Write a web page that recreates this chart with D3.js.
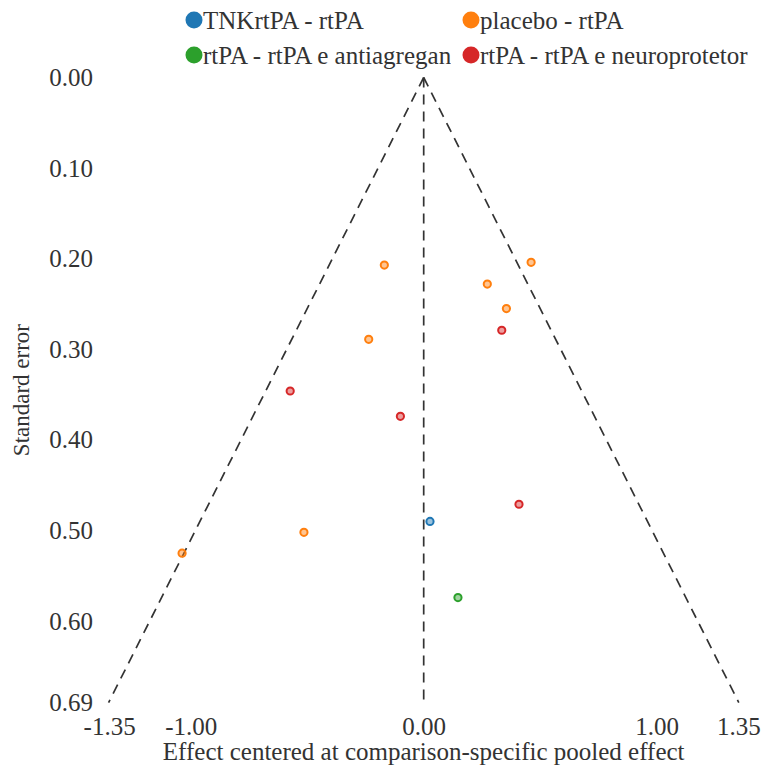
<!DOCTYPE html>
<html>
<head>
<meta charset="utf-8">
<script src="https://cdn.jsdelivr.net/npm/d3@7"></script>
<style>
  html, body { margin: 0; padding: 0; background: #fff; }
  svg { display: block; }
  text { font-family: "Liberation Serif", "Times New Roman", serif; fill: #333; }
</style>
</head>
<body>
<svg id="chart" width="765" height="769"></svg>
<script>
// Comparisons shown in the legend
const comparisons = ["TNKrtPA - rtPA", "placebo - rtPA", "rtPA - rtPA e antiagregante", "rtPA - rtPA e neuroprotetor"];
const colors = ["#1f77b4", "#ff7f0e", "#2ca02c", "#d62728"];

// Study effects centered at comparison-specific pooled effect, and their standard errors
const studyComparison = [1, 1, 1, 1, 1, 1, 1, 3, 3, 3, 3, 0, 2];
const studyEffect     = [-0.169, 0.461, 0.273, 0.355, -0.236, -0.514, -1.037, -0.573, -0.100, 0.335, 0.409, 0.027, 0.147];
const studySE         = [0.207, 0.204, 0.228, 0.255, 0.289, 0.502, 0.525, 0.346, 0.374, 0.279, 0.471, 0.490, 0.574];

// Axis ticks
const xTicks = [-1.35, -1.00, 0.00, 1.00, 1.35];
const yTicks = [0.00, 0.10, 0.20, 0.30, 0.40, 0.50, 0.60, 0.69];
const seMax = 0.69;
const limit = 1.96 * seMax; // pseudo 95% limits at the widest point

const fmt = d => d.toFixed(2);
const serif = "'Liberation Serif', 'Times New Roman', serif";

const svg = d3.select("#chart");

const x = d3.scaleLinear().domain([-1.35, 1.35]).range([423.7 - 1.35 * 233, 423.7 + 1.35 * 233]);
const y = d3.scaleLinear().domain([0, seMax]).range([77.5, 77.5 + seMax * 906]);

// Y axis (labels only)
const yAxis = svg.append("g")
  .attr("transform", "translate(97,0)")
  .call(d3.axisLeft(y).tickValues(yTicks).tickSize(0).tickPadding(4).tickFormat(fmt));
yAxis.select(".domain").remove();
yAxis.selectAll("text").style("font-size", "25px").attr("fill", "#333").style("font-family", serif);

// X axis (labels only)
const xAxis = svg.append("g")
  .attr("transform", "translate(0,711)")
  .call(d3.axisBottom(x).tickValues(xTicks).tickSize(0).tickPadding(6).tickFormat(fmt));
xAxis.select(".domain").remove();
xAxis.selectAll("text").style("font-size", "25px").attr("fill", "#333").style("font-family", serif);

// Axis titles
svg.append("text")
  .attr("x", x(0)).attr("y", 751)
  .attr("text-anchor", "middle").attr("dominant-baseline", "central")
  .style("font-size", "25px")
  .text("Effect centered at comparison-specific pooled effect");

svg.append("text")
  .attr("transform", `translate(21,${y(0.345)}) rotate(-90)`)
  .attr("text-anchor", "middle").attr("dominant-baseline", "central")
  .style("font-size", "23px")
  .text("Standard error");

// Funnel: zero line and pseudo-confidence limits
const dash = "10,7";
svg.append("line")
  .attr("x1", x(0)).attr("x2", x(0))
  .attr("y1", y(0)).attr("y2", y(seMax))
  .attr("stroke", "#333").attr("stroke-width", 1.7).attr("stroke-dasharray", dash);

const funnel = d3.line().x(d => x(d[0])).y(d => y(d[1]));
[[[0, 0], [-limit, seMax]], [[0, 0], [limit, seMax]]].forEach(seg => {
  svg.append("path")
    .attr("d", funnel(seg))
    .attr("fill", "none")
    .attr("stroke", "#333").attr("stroke-width", 1.7).attr("stroke-dasharray", dash);
});

// Study points
const studies = studyEffect.map((e, i) => ({ e, se: studySE[i], c: studyComparison[i] }));
svg.append("g").selectAll("circle")
  .data(studies)
  .join("circle")
  .attr("cx", d => x(d.e))
  .attr("cy", d => y(d.se))
  .attr("r", 3.6)
  .attr("fill", d => colors[d.c]).attr("fill-opacity", 0.45)
  .attr("stroke", d => colors[d.c]).attr("stroke-width", 2);

// Legend, two columns; labels in the left column are cut at the column width
const legendX = [194, 471];
const legendY = [20, 55];
const leftColWidth = 257;
const defs = svg.append("defs");
defs.append("clipPath").attr("id", "legclip")
  .append("rect").attr("x", legendX[0]).attr("y", 0).attr("width", leftColWidth).attr("height", 80);
const legend = svg.append("g");
comparisons.forEach((name, i) => {
  const col = i % 2;
  const cx = legendX[col], cy = legendY[Math.floor(i / 2)];
  const label = legend.append("text")
    .attr("x", cx + 9).attr("y", cy)
    .attr("dominant-baseline", "central")
    .style("font-size", "25px")
    .text(name);
  if (col === 0) label.attr("clip-path", "url(#legclip)");
  legend.append("circle")
    .attr("cx", cx).attr("cy", cy).attr("r", 8.5)
    .attr("fill", colors[i]);
});
</script>
</body>
</html>
